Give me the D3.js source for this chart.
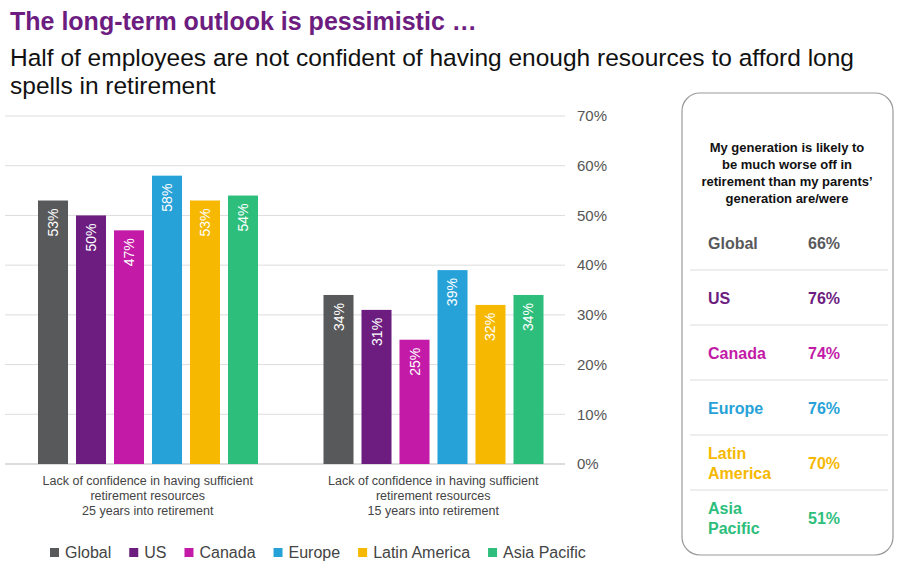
<!DOCTYPE html>
<html><head><meta charset="utf-8">
<script src="https://cdn.jsdelivr.net/npm/d3@7"></script>
<style>body{margin:0;background:#fff;font-family:"Liberation Sans",Arial,sans-serif}</style>
</head><body><svg id="c" width="900" height="568"></svg>
<script>
const categories = ["Lack of confidence in having sufficient|retirement resources|25 years into retirement",
                    "Lack of confidence in having sufficient|retirement resources|15 years into retirement"];
const series = ["Global", "US", "Canada", "Europe", "Latin America", "Asia Pacific"];
const colors = ["#58595b", "#6c1d7f", "#c31ba7", "#27a2d8", "#f6b800", "#2dbe7c"];
const values25 = [53, 50, 47, 58, 53, 54];
const values15 = [34, 31, 25, 39, 32, 34];
const yTicks = [0, 10, 20, 30, 40, 50, 60, 70];
const boxLabels = ["Global", "US", "Canada", "Europe", "Latin|America", "Asia|Pacific"];
const boxValues = [66, 76, 74, 76, 70, 51];

const svg = d3.select("#c");
svg.append("text").attr("x", 10).attr("y", 30).attr("fill", "#6c1d7f")
  .attr("font-size", 25).attr("font-weight", "bold").text("The long-term outlook is pessimistic …");
["Half of employees are not confident of having enough resources to afford long", "spells in retirement"]
  .forEach((t, i) => svg.append("text").attr("x", 10).attr("y", 66 + i * 28).attr("font-size", 24.5)
    .attr("fill", "#111").text(t));

const y = d3.scaleLinear().domain([0, 70]).range([464, 116]);
const x0 = d3.scaleBand().domain([0, 1]).range([5, 576]);
const x1 = d3.scaleBand().domain(series).range([33, 253]).paddingInner(0.21).paddingOuter(0);

const g = svg.append("g");
g.selectAll("line.grid").data(yTicks).join("line")
  .attr("x1", 5).attr("x2", 565).attr("y1", d => y(d)).attr("y2", d => y(d))
  .attr("stroke", d => d === 0 ? "#bbb" : "#ddd");
svg.append("g").attr("transform", "translate(565,0)")
  .call(d3.axisRight(y).tickValues(yTicks).tickFormat(d => d + "%").tickSize(0).tickPadding(12))
  .call(a => a.select(".domain").remove())
  .call(a => a.selectAll("text").attr("font-size", 15).attr("fill", "#555")
    .attr("font-family", "Liberation Sans, Arial"));

[values25, values15].forEach((vals, gi) => {
  const grp = g.append("g").attr("transform", `translate(${x0(gi)},0)`);
  grp.selectAll("rect").data(vals).join("rect")
    .attr("x", (d, i) => x1(series[i])).attr("width", x1.bandwidth())
    .attr("y", d => y(d)).attr("height", d => y(0) - y(d))
    .attr("fill", (d, i) => colors[i]);
  grp.selectAll("text").data(vals).join("text")
    .attr("transform", (d, i) => `translate(${x1(series[i]) + x1.bandwidth() / 2 + 5},${y(d) + 8}) rotate(-90)`)
    .attr("text-anchor", "end").attr("fill", "#fff").attr("font-size", 14).text(d => d + "%");
  categories[gi].split("|").forEach((t, li) =>
    svg.append("text").attr("x", x0(gi) + x0.bandwidth() / 2).attr("y", 485 + li * 15)
      .attr("text-anchor", "middle").attr("font-size", 12.5).attr("fill", "#444").text(t));
});

// legend
let lx = 50;
series.forEach((s, i) => {
  svg.append("rect").attr("x", lx).attr("y", 548).attr("width", 9).attr("height", 9).attr("fill", colors[i]);
  const t = svg.append("text").attr("x", lx + 15).attr("y", 558).attr("font-size", 16).attr("fill", "#444").text(s);
  lx += 15 + t.node().getComputedTextLength() + 18;
});

// side box
svg.append("rect").attr("x", 682).attr("y", 93).attr("width", 211).attr("height", 462).attr("rx", 18)
  .attr("fill", "#fff").attr("stroke", "#999").attr("stroke-width", 1.2);
["My generation is likely to", "be much worse off in", "retirement than my parents’", "generation are/were"]
  .forEach((t, i) => svg.append("text").attr("x", 787).attr("y", 152 + i * 17).attr("text-anchor", "middle")
    .attr("font-size", 13).attr("font-weight", "bold").attr("fill", "#111").text(t));
const rowY = d3.scaleBand().domain(d3.range(6)).range([215, 545]);
boxLabels.forEach((lab, i) => {
  const cy = rowY(i) + rowY.bandwidth() / 2;
  if (i > 0) svg.append("line").attr("x1", 690).attr("x2", 888).attr("y1", rowY(i)).attr("y2", rowY(i))
    .attr("stroke", "#ddd");
  const c = i === 0 ? "#58595b" : colors[i];
  const parts = lab.split("|");
  parts.forEach((p, j) => svg.append("text").attr("x", 708).attr("y", cy + 6 + (j - (parts.length - 1) / 2) * 20)
    .attr("font-size", 16).attr("font-weight", "bold").attr("fill", c).text(p));
  svg.append("text").attr("x", 808).attr("y", cy + 6).attr("font-size", 16).attr("font-weight", "bold")
    .attr("fill", c).text(boxValues[i] + "%");
});
</script></body></html>
